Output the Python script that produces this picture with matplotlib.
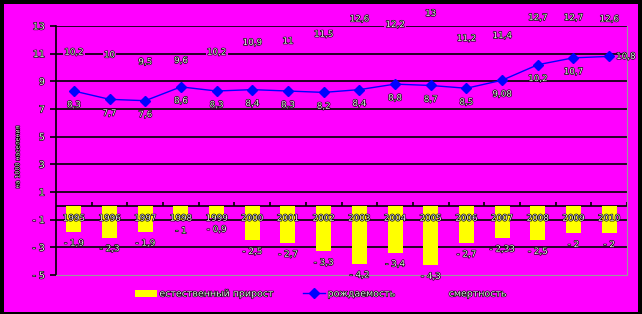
import matplotlib
matplotlib.use("Agg")
import matplotlib.pyplot as plt
import matplotlib.patheffects as pe
from matplotlib.patches import Patch, Rectangle
from matplotlib.lines import Line2D

years = ["1995", "1996", "1997", "1998", "1999", "2000", "2001", "2002",
         "2003", "2004", "2005", "2006", "2007", "2008", "2009", "2010"]
growth = [-1.9, -2.3, -1.9, -1, -0.9, -2.5, -2.7, -3.3,
          -4.2, -3.4, -4.3, -2.7, -2.33, -2.5, -2, -2]
births = [8.3, 7.7, 7.6, 8.6, 8.3, 8.4, 8.3, 8.2,
          8.4, 8.8, 8.7, 8.5, 9.08, 10.2, 10.7, 10.8]
deaths = [10.2, 10, 9.5, 9.6, 10.2, 10.9, 11, 11.5,
          12.6, 12.2, 13, 11.2, 11.4, 12.7, 12.7, 12.6]
yticks = [13, 11, 9, 7, 5, 3, 1, -1, -3, -5]

MAGENTA = "#FF00FF"
TXT = "#E8E8E8"
outline = [pe.withStroke(linewidth=0.9, foreground="black")]


def fmt(v):
    s = f"{abs(v):g}".replace(".", ",")
    return ("- " + s) if v < 0 else s


fig = plt.figure(figsize=(6.42, 3.14), dpi=100, facecolor="black")
fig.patches.append(Rectangle((4 / 642, 2 / 314), 634 / 642, 308 / 314,
                             transform=fig.transFigure, facecolor=MAGENTA,
                             edgecolor="none", zorder=-10))

ax = fig.add_axes([56 / 642, 39 / 314, 571 / 642, 249 / 314])
ax.set_facecolor(MAGENTA)
x = list(range(len(years)))

for t in yticks[:-1]:
    ax.axhline(t, color="black", linewidth=1.2, zorder=1)
ax.axhline(0, color="black", linewidth=1.2, zorder=1)
ax.vlines([i + 0.5 for i in x], 0, 0.3, color="black", linewidth=1.2, zorder=1)

ax.bar(x, growth, width=0.42, color="#FFFF00", zorder=2)
ax.plot(x, births, color="#0000FF", linewidth=1, marker="D", markersize=5, zorder=3)

tkw = dict(fontsize=6.3, color=TXT, ha="center", path_effects=outline, zorder=5)
for i, y in enumerate(years):
    ax.text(i, -0.9, y, va="center", **tkw)
for i, v in enumerate(growth):
    ax.annotate(fmt(v), (i, v), xytext=(0, -8), textcoords="offset points",
                va="center", **tkw)
for i, v in enumerate(births):
    if i == len(births) - 1:
        ax.annotate(fmt(v), (i, v), xytext=(5, 0), textcoords="offset points",
                    va="center", fontsize=6.3, color=TXT, ha="left",
                    path_effects=outline, zorder=5)
    else:
        ax.annotate(fmt(v), (i, v), xytext=(0, -10), textcoords="offset points",
                    va="center", **tkw)
for i, v in enumerate(deaths):
    ax.annotate(fmt(v), (i, v), xytext=(0, 9), textcoords="offset points",
                va="center", bbox=dict(boxstyle="square,pad=0.15", fc=MAGENTA, ec="none"),
                **tkw)

ax.set_xlim(-0.5, 15.5)
ax.set_ylim(-5, 13)
ax.set_xticks([])
ax.set_yticks(yticks)
ax.set_yticklabels([fmt(t) for t in yticks])
ax.tick_params(axis="y", length=4, width=1.2, color="black", labelsize=6.8,
               labelcolor=TXT, pad=4)
for lbl in ax.get_yticklabels():
    lbl.set_path_effects(outline)
ax.spines["top"].set_visible(False)
ax.spines["left"].set_color("black")
ax.spines["left"].set_linewidth(1.2)
ax.spines["right"].set_color("#999999")
ax.spines["bottom"].set_color("#999999")
fig.text(18 / 642, 0.5, "на 1000 населения", fontsize=4.5, color=TXT,
         rotation=90, ha="center", va="center", path_effects=outline)

handles = [Patch(facecolor="#FFFF00", edgecolor="none"),
           Line2D([], [], color="#0000FF", marker="D", markersize=5, linewidth=1),
           Line2D([], [], color="none")]
labels = ["естественный прирост", "рождаемость", "смертность"]
leg = fig.legend(handles, labels, loc="center", bbox_to_anchor=(0.5, 20 / 314),
                 ncol=3, frameon=False, fontsize=6.8, handlelength=2.3,
                 handleheight=0.7, columnspacing=3.0, handletextpad=0.3)
for t in leg.get_texts():
    t.set_color(TXT)
    t.set_path_effects(outline)

fig.savefig("out.png", dpi=100, facecolor="black")
